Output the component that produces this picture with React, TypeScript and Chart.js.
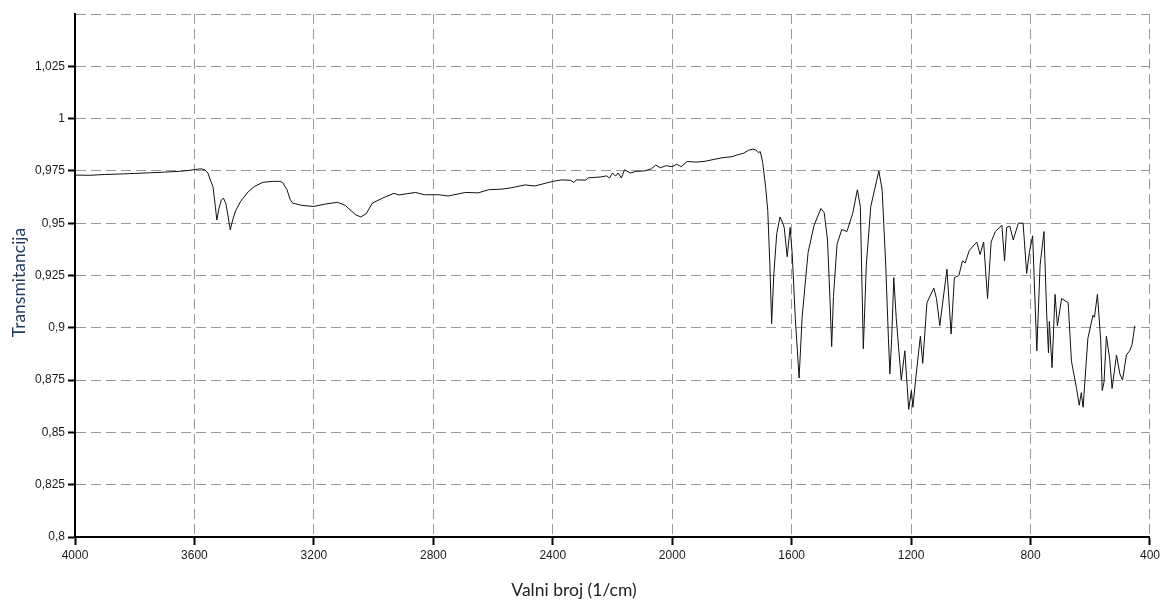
import React, { useEffect, useRef } from "react";
import { Chart, registerables } from "chart.js";

Chart.register(...registerables);

const wavenumbers: number[] = [
  4000, 3950, 3900, 3850, 3800, 3750, 3700, 3650, 3620, 3590, 3577, 3565, 3555, 3545, 3538,
  3530, 3525, 3518, 3510, 3503, 3495, 3487, 3480, 3472, 3462, 3445, 3420, 3400, 3371, 3340,
  3316, 3305, 3290, 3280, 3271, 3240, 3200, 3160, 3121, 3095, 3060, 3043, 3025, 3004, 2970,
  2932, 2915, 2860, 2830, 2782, 2750, 2693, 2650, 2615, 2570, 2540, 2493, 2460, 2400, 2370,
  2340, 2330, 2320, 2290, 2280, 2240, 2220, 2210, 2200, 2190, 2181, 2170, 2160, 2140, 2120,
  2092, 2070, 2055, 2040, 2020, 2000, 1985, 1970, 1950, 1920, 1890, 1860, 1836, 1800, 1780,
  1760, 1745, 1730, 1720, 1712, 1705, 1697, 1687, 1680, 1673, 1667, 1660, 1650, 1639, 1630,
  1625, 1615, 1605, 1598, 1588, 1575, 1565, 1545, 1525, 1502, 1491, 1480, 1472, 1466, 1460,
  1448, 1432, 1415, 1395, 1380, 1370, 1360, 1350, 1335, 1308, 1297, 1285, 1276, 1271, 1265,
  1258, 1250, 1233, 1221, 1208, 1199, 1194, 1185, 1169, 1161, 1147, 1124, 1115, 1104, 1080,
  1066, 1055, 1040, 1028, 1019, 1005, 980, 969, 957, 944, 932, 918, 896, 887, 880,
  869, 858, 841, 825, 813, 804, 793, 779, 768, 755, 746, 740, 737, 728, 718,
  710, 696, 674, 663, 646, 637, 630, 624, 608, 591, 586, 576, 565, 560, 554,
  546, 535, 527, 512, 501, 492, 479, 468, 460, 451,
];

const transmittance: number[] = [
  0.9730, 0.9729, 0.9733, 0.9735, 0.9738, 0.9741, 0.9744, 0.9748, 0.9752, 0.9758, 0.9760, 0.9755, 0.9740, 0.9700, 0.9675,
  0.9580, 0.9515, 0.9570, 0.9610, 0.9620, 0.9595, 0.9530, 0.9468, 0.9515, 0.9560, 0.9605, 0.9650, 0.9675, 0.9695, 0.9700,
  0.9700, 0.9695, 0.9660, 0.9615, 0.9596, 0.9585, 0.9580, 0.9592, 0.9600, 0.9585, 0.9540, 0.9530, 0.9545, 0.9596, 0.9620,
  0.9643, 0.9635, 0.9647, 0.9636, 0.9636, 0.9630, 0.9647, 0.9645, 0.9660, 0.9663, 0.9669, 0.9683, 0.9678, 0.9700, 0.9707,
  0.9705, 0.9695, 0.9707, 0.9706, 0.9717, 0.9721, 0.9726, 0.9716, 0.9740, 0.9725, 0.9740, 0.9716, 0.9755, 0.9740, 0.9748,
  0.9750, 0.9760, 0.9778, 0.9765, 0.9775, 0.9770, 0.9782, 0.9770, 0.9795, 0.9792, 0.9796, 0.9805, 0.9812, 0.9818, 0.9827,
  0.9835, 0.9848, 0.9854, 0.9850, 0.9838, 0.9842, 0.9790, 0.9670, 0.9560, 0.9300, 0.9020, 0.9250, 0.9450, 0.9530, 0.9500,
  0.9480, 0.9340, 0.9480, 0.9350, 0.9050, 0.8760, 0.9050, 0.9360, 0.9490, 0.9570, 0.9550, 0.9420, 0.9150, 0.8910, 0.9150,
  0.9400, 0.9470, 0.9460, 0.9550, 0.9660, 0.9580, 0.8900, 0.9300, 0.9580, 0.9750, 0.9660, 0.9300, 0.8950, 0.8780, 0.8950,
  0.9240, 0.9050, 0.8750, 0.8890, 0.8610, 0.8700, 0.8620, 0.8750, 0.8960, 0.8830, 0.9120, 0.9190, 0.9140, 0.9010, 0.9280,
  0.8970, 0.9240, 0.9250, 0.9320, 0.9310, 0.9370, 0.9410, 0.9350, 0.9410, 0.9140, 0.9410, 0.9460, 0.9490, 0.9320, 0.9480,
  0.9485, 0.9420, 0.9500, 0.9500, 0.9260, 0.9360, 0.9440, 0.8890, 0.9300, 0.9460, 0.9070, 0.8880, 0.9030, 0.8810, 0.9160,
  0.9010, 0.9140, 0.9120, 0.8840, 0.8710, 0.8630, 0.8690, 0.8620, 0.8950, 0.9060, 0.9050, 0.9160, 0.8940, 0.8700, 0.8740,
  0.8960, 0.8850, 0.8710, 0.8870, 0.8780, 0.8750, 0.8870, 0.8890, 0.8920, 0.9010,
];

const xTickValues: number[] = [4000, 3600, 3200, 2800, 2400, 2000, 1600, 1200, 800, 400];
const yTickValues: number[] = [0.8, 0.825, 0.85, 0.875, 0.9, 0.925, 0.95, 0.975, 1, 1.025, 1.05];
const yHiddenLabels: number[] = [1.05];

const xTitle = "Valni broj (1/cm)";
const yTitle = "Transmitancija";

const isHidden = (v: number) => yHiddenLabels.some((h) => Math.abs(h - v) < 1e-6);

const titlePlugin = {
  id: "axisTitles",
  afterDraw(chart: any) {
    const ctx = chart.ctx;
    ctx.save();
    ctx.font = "17.5px Lato, 'Open Sans', sans-serif";
    ctx.textAlign = "center";
    ctx.textBaseline = "middle";
    ctx.fillStyle = "#222";
    ctx.fillText(xTitle, 574, 590);
    ctx.translate(19, 282.5);
    ctx.rotate(-Math.PI / 2);
    ctx.fillStyle = "#1f3a5a";
    ctx.fillText(yTitle, 0, 0);
    ctx.restore();
  },
};

export default function App() {
  const ref = useRef<HTMLCanvasElement | null>(null);

  useEffect(() => {
    if (!ref.current) return;
    const points = wavenumbers.map((w, i) => ({ x: w, y: transmittance[i] }));
    const fmt = (v: number) => {
      const r = Math.round(v * 1000) / 1000;
      if (isHidden(r)) return "";
      return String(r).replace(".", ",");
    };
    const chart = new Chart(ref.current, {
      type: "scatter",
      data: {
        datasets: [
          {
            data: points,
            showLine: true,
            borderColor: "#111",
            borderWidth: 1,
            pointRadius: 0,
            tension: 0,
            fill: false,
          },
        ],
      },
      plugins: [titlePlugin],
      options: {
        animation: false,
        responsive: false,
        maintainAspectRatio: false,
        layout: { padding: { top: 14, right: 10, left: 0, bottom: 0 } },
        plugins: { legend: { display: false }, tooltip: { enabled: false } },
        scales: {
          x: {
            type: "linear",
            reverse: true,
            min: 400,
            max: 4000,
            afterBuildTicks: (scale: any) => {
              scale.ticks = xTickValues.map((v) => ({ value: v }));
            },
            afterFit: (scale: any) => {
              scale.height = 64;
            },
            ticks: {
              autoSkip: false,
              maxRotation: 0,
              padding: 3,
              color: "#1a1a1a",
              font: { family: "'Liberation Sans', Arial, sans-serif", size: 12 },
              callback: (v: any) => String(v),
            },
            grid: {
              color: "#999",
              lineWidth: 1,
              tickLength: 8,
              tickColor: "#000",
              tickWidth: 2,
              tickBorderDash: [],
            },
            border: { display: true, color: "#000", width: 2, dash: [10, 5] },
            title: { display: false },
          },
          y: {
            type: "linear",
            min: 0.8,
            max: 1.05,
            afterBuildTicks: (scale: any) => {
              scale.ticks = yTickValues.map((v) => ({ value: v }));
            },
            afterFit: (scale: any) => {
              scale.width = 75;
            },
            ticks: {
              autoSkip: false,
              padding: 3,
              color: "#1a1a1a",
              font: { family: "'Liberation Sans', Arial, sans-serif", size: 12 },
              callback: (v: any) => fmt(Number(v)),
            },
            grid: {
              color: "#999",
              lineWidth: 1,
              tickLength: 7,
              tickColor: (c: any) => (c.tick && isHidden(c.tick.value) ? "rgba(0,0,0,0)" : "#000"),
              tickWidth: 2,
              tickBorderDash: [],
            },
            border: { display: true, color: "#000", width: 2, dash: [10, 5] },
            title: { display: false },
          },
        },
      },
    });
    return () => chart.destroy();
  }, []);

  return (
    <div style={{ position: "fixed", left: 0, top: 0, width: 1163, height: 601, background: "#fff" }}>
      <canvas ref={ref} width={1163} height={601} />
    </div>
  );
}
